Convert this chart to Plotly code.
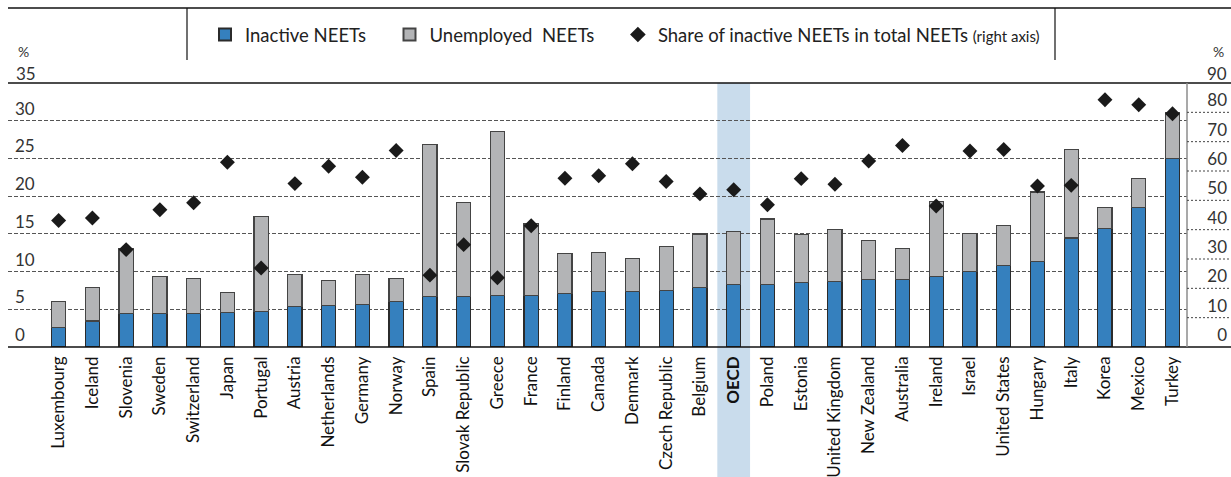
import plotly.graph_objects as go

countries = ["Luxembourg", "Iceland", "Slovenia", "Sweden", "Switzerland", "Japan", "Portugal",
             "Austria", "Netherlands", "Germany", "Norway", "Spain", "Slovak Republic", "Greece",
             "France", "Finland", "Canada", "Denmark", "Czech Republic", "Belgium", "OECD",
             "Poland", "Estonia", "United Kingdom", "New Zealand", "Australia", "Ireland", "Israel",
             "United States", "Hungary", "Italy", "Korea", "Mexico", "Turkey"]

inactive = [2.6, 3.46, 4.39, 4.39, 4.47, 4.56, 4.69, 5.4, 5.49, 5.62, 6.07, 6.65, 6.73, 6.78,
            6.78, 7.13, 7.31, 7.35, 7.53, 7.84, 8.24, 8.24, 8.51, 8.72, 8.99, 8.99, 9.3, 10.05,
            10.85, 11.3, 14.44, 15.69, 18.52, 25.04]

total = [6.07, 7.93, 13.1, 9.39, 9.04, 7.22, 17.33, 9.66, 8.86, 9.66, 9.13, 26.9, 19.15, 28.6,
         16.36, 12.37, 12.5, 11.74, 13.3, 14.97, 15.29, 16.97, 14.89, 15.6, 14.14, 13.03, 19.28,
         15.03, 16.09, 20.56, 26.2, 18.52, 22.38, 31.1]

unemployed = [round(t - i, 2) for t, i in zip(total, inactive)]

share_inactive = [43.1, 44.0, 33.2, 46.8, 49.2, 63.0, 26.9, 55.7, 61.6, 57.9, 67.0, 24.5, 34.9,
                  23.6, 41.3, 57.5, 58.4, 62.5, 56.4, 52.2, 53.6, 48.5, 57.4, 55.5, 63.4, 68.7,
                  48.1, 66.8, 67.3, 54.9, 55.1, 84.3, 82.6, 79.5]

left_ticks = [0, 5, 10, 15, 20, 25, 30, 35]
right_ticks = [0, 10, 20, 30, 40, 50, 60, 70, 80, 90]
highlight = "OECD"

# ---- layout geometry (pixels) ----
W, H = 1231, 477
ML, MR, MT, MB = 8, 0, 83, 130
PW, PH = W - ML - MR, H - MT - MB


def px(xp):
    return (xp - ML) / PW


def py(yp):
    return (H - MB - yp) / PH


FONT = "Lato"
BLUE = "#3580be"
GREY = "#b3b4b6"
EDGE = "#2b2b2b"
TICKCOL = "#333"

ticktext = [f"<b>{c}</b>" if c == highlight else c for c in countries]

fig = go.Figure()
fig.add_trace(go.Bar(x=countries, y=inactive, name="Inactive NEETs\u2003\u00a0",
                     marker=dict(color=BLUE, line=dict(color=EDGE, width=1.2))))
fig.add_trace(go.Bar(x=countries, y=unemployed, name="Unemployed\u00a0\u00a0NEETs\u2003\u00a0",
                     marker=dict(color=GREY, line=dict(color="#444", width=1.2))))
fig.add_trace(go.Scatter(x=countries, y=share_inactive, yaxis="y2", mode="markers",
                         name="Share of inactive NEETs in total NEETs <span style='font-size:15px'>(right axis)</span>",
                         marker=dict(symbol="diamond", size=11.5, color="#1a1a1a")))

shapes = []
hi = countries.index(highlight)
shapes.append(dict(type="rect", xref="x", yref="paper", x0=hi - 0.485, x1=hi + 0.485,
                   y0=py(H), y1=1, fillcolor="#c9dcec", line=dict(width=0), layer="below"))
# top and bottom frame lines
shapes.append(dict(type="line", xref="paper", yref="paper", x0=0, x1=1, y0=1, y1=1,
                   line=dict(color="#111", width=1.5)))
shapes.append(dict(type="line", xref="paper", yref="paper", x0=0, x1=1, y0=0, y1=0,
                   line=dict(color="#111", width=1.5)))
# right separator
shapes.append(dict(type="line", xref="paper", yref="paper", x0=px(1187), x1=px(1187), y0=0, y1=1,
                   line=dict(color="#8c8c8c", width=1.5)))
# right-axis dotted grid
for v in right_ticks[1:-1]:
    shapes.append(dict(type="line", xref="paper", yref="y2", x0=px(1187), x1=1, y0=v, y1=v,
                       line=dict(color="#444", width=1, dash="2px,2px")))
# legend box lines
shapes.append(dict(type="line", xref="paper", yref="paper", x0=0, x1=1, y0=py(8), y1=py(8),
                   line=dict(color="#111", width=1.5)))
for xp in (187, 1055):
    shapes.append(dict(type="line", xref="paper", yref="paper", x0=px(xp), x1=px(xp),
                       y0=py(8), y1=py(60), line=dict(color="#111", width=1.2)))

tickfont = dict(family=FONT, size=17, color=TICKCOL)
annotations = [
    dict(text="%", xref="paper", yref="paper", x=px(16), y=py(62), xanchor="left", yanchor="bottom",
         showarrow=False, font=dict(family=FONT, size=14, color=TICKCOL)),
    dict(text="%", xref="paper", yref="paper", x=px(1226), y=py(62), xanchor="right", yanchor="bottom",
         showarrow=False, font=dict(family=FONT, size=14, color=TICKCOL)),
    # top tick labels that sit above the plotting area
    dict(text=str(left_ticks[-1]), xref="paper", yref="y", x=px(14), y=left_ticks[-1],
         xanchor="left", yanchor="bottom", showarrow=False, font=tickfont, yshift=-3),
    dict(text=str(right_ticks[-1]), xref="paper", yref="y2", x=px(1229), y=right_ticks[-1],
         xanchor="right", yanchor="bottom", showarrow=False, font=tickfont, yshift=-3),
]

fig.update_layout(
    width=W, height=H,
    margin=dict(l=ML, r=MR, t=MT, b=MB),
    paper_bgcolor="white", plot_bgcolor="rgba(0,0,0,0)",
    barmode="stack", bargap=0.58,
    showlegend=True,
    legend=dict(orientation="h", x=px(205), xanchor="left", y=py(35), yanchor="middle",
                font=dict(family=FONT, size=18.5, color="#222"), bgcolor="rgba(0,0,0,0)",
                traceorder="normal", itemsizing="constant"),
    xaxis=dict(domain=[0, px(1187)], range=[-1.5, 33.43], tickmode="array",
               tickvals=countries, ticktext=ticktext, tickangle=-90,
               tickfont=dict(family=FONT, size=17, color="#111"), ticks="",
               ticklabelstandoff=5, showgrid=False, showline=False, zeroline=False),
    yaxis=dict(range=[0, 35], tickvals=left_ticks, ticks="", ticklabelposition="inside top",
               ticklabelstandoff=4, tickfont=tickfont,
               showgrid=True, gridcolor="#555", gridwidth=1, griddash="4px,2px",
               zeroline=False, showline=False),
    yaxis2=dict(range=[0, 90], tickvals=right_ticks, overlaying="y", anchor="free", position=1,
                side="right", ticks="", ticklabelposition="inside top", ticklabelstandoff=1,
                tickfont=tickfont,
                showgrid=False, zeroline=False, showline=False),
    shapes=shapes,
    annotations=annotations,
)

fig.write_html("out.html", post_script="document.body.style.margin='0';",
               config={"displayModeBar": False})
